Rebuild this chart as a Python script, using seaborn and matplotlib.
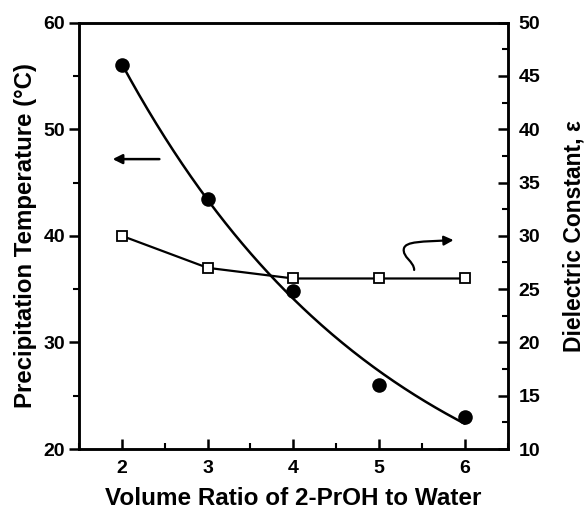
import numpy as np
import pandas as pd
import matplotlib
matplotlib.use("Agg")
import matplotlib.pyplot as plt
import seaborn as sns
from matplotlib.patches import FancyArrowPatch
from matplotlib.path import Path
from matplotlib.ticker import MultipleLocator

# Data
ratio = [2, 3, 4, 5, 6]
precip_temp = [56.0, 43.5, 34.8, 26.0, 23.0]     # left axis (°C)
dielectric = [30.0, 27.0, 26.0, 26.0, 26.0]      # right axis

sns.set_style("ticks")
plt.rcParams['font.family'] = ['Liberation Sans', 'DejaVu Sans']
plt.rcParams['font.weight'] = 'bold'
plt.rcParams['text.color'] = 'black'
plt.rcParams['axes.labelcolor'] = 'black'
plt.rcParams['xtick.color'] = 'black'
plt.rcParams['ytick.color'] = 'black'
plt.rcParams['axes.edgecolor'] = 'black'

fig = plt.figure(figsize=(5.87, 5.11), dpi=100)
ax = fig.add_axes([0.1346, 0.1213, 0.7301, 0.8343])
ax2 = ax.twinx()

df1 = pd.DataFrame({"x": ratio, "y": precip_temp})
df2 = pd.DataFrame({"x": ratio, "y": dielectric})

# exponential-decay least-squares fit  y = C + A*exp(-k x)
xa = np.array(ratio, float)
ya = np.array(precip_temp, float)
best = None
for k in np.linspace(0.05, 2.0, 2000):
    M = np.column_stack([np.ones_like(xa), np.exp(-k * xa)])
    coef, res, *_ = np.linalg.lstsq(M, ya, rcond=None)
    err = np.sum((M @ coef - ya) ** 2)
    if best is None or err < best[0]:
        best = (err, k, coef)
_, kf, (Cf, Af) = best
xs = np.linspace(min(ratio), max(ratio), 200)
fit = pd.DataFrame({"x": xs, "y": Cf + Af * np.exp(-kf * xs)})

sns.lineplot(data=fit, x="x", y="y", ax=ax, color="black", lw=1.8)
sns.scatterplot(data=df1, x="x", y="y", ax=ax, s=110, color="black",
                edgecolor="black", linewidth=0, zorder=3)
sns.lineplot(data=df2, x="x", y="y", ax=ax2, color="black", lw=1.6,
             marker="s", markersize=7, markerfacecolor="white",
             markeredgecolor="black", markeredgewidth=1.3)

ax.set_xlim(1.5, 6.5)
ax.set_ylim(20, 60)
ax2.set_ylim(10, 50)

ax.xaxis.set_major_locator(MultipleLocator(1))
ax.xaxis.set_minor_locator(MultipleLocator(0.5))
ax.yaxis.set_major_locator(MultipleLocator(10))
ax.yaxis.set_minor_locator(MultipleLocator(5))
ax2.yaxis.set_major_locator(MultipleLocator(5))
ax2.yaxis.set_minor_locator(MultipleLocator(2.5))

for a in (ax, ax2):
    for s in a.spines.values():
        s.set_linewidth(1.8)
        s.set_visible(True)

ax.tick_params(axis='x', which='major', direction='in', length=7, width=1.8, labelsize=14, pad=8)
ax.tick_params(axis='x', which='minor', direction='in', length=4, width=1.5)
ax.tick_params(axis='y', which='major', direction='out', length=7, width=1.8, labelsize=14, pad=3)
ax.tick_params(axis='y', which='minor', direction='out', length=4, width=1.5)
ax2.tick_params(axis='y', which='major', direction='in', length=7, width=1.8, labelsize=14, pad=8)
ax2.tick_params(axis='y', which='minor', direction='in', length=4, width=1.5)
for lab in ax.get_xticklabels() + ax.get_yticklabels() + ax2.get_yticklabels():
    lab.set_fontweight('bold')

ax.set_xlabel("Volume Ratio of 2-PrOH to Water", fontsize=17.5, fontweight='bold', labelpad=7)
ax.set_ylabel("Precipitation Temperature (°C)", fontsize=17.3, fontweight='bold', labelpad=5)
ax2.set_ylabel("Dielectric Constant, ε", fontsize=16.5, fontweight='bold', labelpad=16)

# Straight arrow pointing to the left axis
ax.annotate("", xy=(1.86, 47.2), xytext=(2.47, 47.2),
            arrowprops=dict(arrowstyle='-|>', color='black', lw=1.8, mutation_scale=14))

# Curly arrow pointing to the right axis
verts = [(5.41, 36.8), (5.41, 37.6), (5.27, 38.0), (5.29, 38.8),
         (5.31, 39.5), (5.5, 39.45), (5.87, 39.6)]
codes = [Path.MOVETO, Path.CURVE4, Path.CURVE4, Path.CURVE4,
         Path.CURVE4, Path.CURVE4, Path.CURVE4]
curl = FancyArrowPatch(path=Path(verts, codes), arrowstyle='-|>', color='black',
                       lw=1.6, mutation_scale=14, transform=ax.transData)
ax.add_patch(curl)

fig.savefig("out.png", dpi=100)
